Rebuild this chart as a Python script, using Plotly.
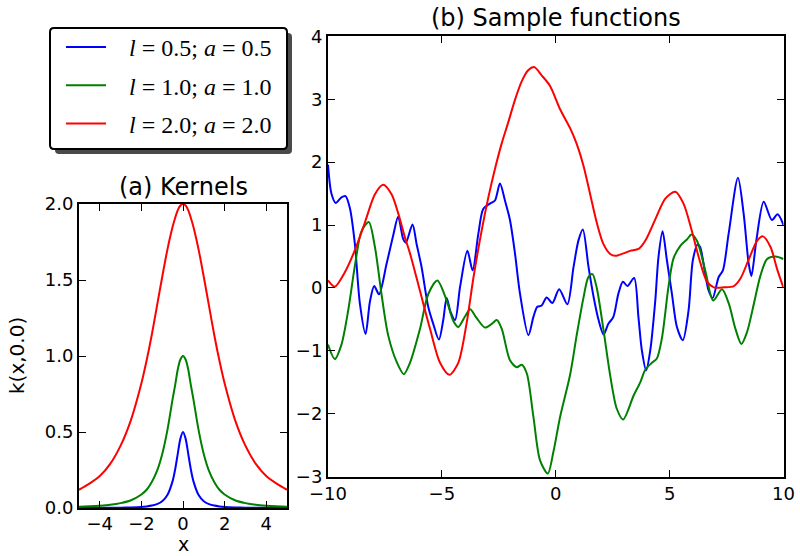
import plotly.graph_objects as go

W, H = 800, 556

# ---------------- data: (a) kernels ----------------
kernel_x = [-5, -4.5, -4, -3.5, -3, -2.5, -2, -1.75, -1.5, -1.25, -1, -0.75, -0.5, -0.375, -0.25, -0.125, 0,
            0.125, 0.25, 0.375, 0.5, 0.75, 1, 1.25, 1.5, 1.75, 2, 2.5, 3, 3.5, 4, 4.5, 5]
kernel_blue = [0.0005, 0.0007, 0.001, 0.0015, 0.0022, 0.0039, 0.0072, 0.0106, 0.0158, 0.0256, 0.0447, 0.0855,
               0.177, 0.256, 0.358, 0.4565, 0.5,
               0.4565, 0.358, 0.256, 0.177, 0.0855, 0.0447, 0.0256, 0.0158, 0.0106, 0.0072, 0.0039, 0.0022,
               0.0015, 0.001, 0.0007, 0.0005]
kernel_green = [0.008, 0.011, 0.015, 0.021, 0.032, 0.051, 0.089, 0.12, 0.171, 0.244, 0.354, 0.512, 0.716,
                0.81, 0.913, 0.977, 1.0,
                0.977, 0.913, 0.81, 0.716, 0.512, 0.354, 0.244, 0.171, 0.12, 0.089, 0.051, 0.032, 0.021,
                0.015, 0.011, 0.008]
kernel_red = [0.12, 0.16, 0.21, 0.29, 0.41, 0.58, 0.82, 0.97, 1.14, 1.33, 1.52, 1.70, 1.85, 1.91, 1.96, 1.99, 2.0,
              1.99, 1.96, 1.91, 1.85, 1.70, 1.52, 1.33, 1.14, 0.97, 0.82, 0.58, 0.41, 0.29, 0.21, 0.16, 0.12]

# ---------------- data: (b) sample functions ----------------
blue_x = [-10, -9.85, -9.66, -9.41, -9.23, -9.04, -8.82, -8.6, -8.35, -8.16, -7.97, -7.76, -7.43, -7.14, -6.92,
          -6.7, -6.58, -6.29, -6.11, -5.89, -5.6, -5.38, -5.13, -4.94, -4.79, -4.62, -4.42, -4.2, -3.88, -3.65,
          -3.4, -3.18, -2.89, -2.67, -2.45, -2.23, -2.01, -1.79, -1.57, -1.2, -0.98, -0.81, -0.62, -0.4, -0.15,
          0.15, 0.51, 0.78, 1.0, 1.19, 1.44, 1.66, 1.88, 2.1, 2.31, 2.53, 2.75, 2.95, 3.15, 3.44, 3.63, 3.78,
          3.97, 4.15, 4.37, 4.51, 4.69, 4.88, 5.1, 5.32, 5.58, 5.83, 6.02, 6.23, 6.34, 6.56, 6.71, 6.89, 7.15,
          7.34, 7.59, 8.0, 8.25, 8.47, 8.59, 8.81, 9.13, 9.49, 9.74, 10]
blue_y = [1.96, 1.5, 1.35, 1.44, 1.46, 1.27, 0.7, -0.25, -0.73, -0.22, 0.03, -0.1, 0.38, 0.83, 1.13,
          0.78, 0.72, 1.01, 0.7, 0.33, -0.3, -0.57, -0.82, -0.51, -0.16, -0.38, -0.51, 0.02, 0.59, 0.28,
          0.86, 1.26, 1.34, 1.39, 1.66, 1.39, 1.08, 0.55, -0.09, -0.75, -0.46, -0.3, -0.28, -0.15, -0.24,
          -0.02, -0.26, 0.33, 0.76, 0.93, 0.33, -0.14, -0.51, -0.74, -0.57, -0.46, -0.09, 0.1, 0.03, 0.16,
          -0.46, -0.99, -1.31, -0.99, -0.2, 0.49, 0.9, 0.44, -0.09, -0.62, -0.83, -0.36, 0.44, 0.69, 0.65,
          0.23, -0.04, -0.16, 0.17, 0.28, 0.86, 1.75, 1.18, 0.39, 0.19, 0.76, 1.37, 1.08, 1.17, 1.0]

green_x = [-10, -9.7, -9.41, -9.11, -8.82, -8.53, -8.21, -7.94, -7.65, -7.36, -6.99, -6.67, -6.4, -5.96, -5.6,
           -5.2, -4.79, -4.5, -4.28, -3.98, -3.76, -3.47, -3.11, -2.81, -2.59, -2.37, -2.01, -1.71, -1.49,
           -1.27, -0.98, -0.69, -0.35, -0.1, 0.19, 0.63, 0.92, 1.22, 1.43, 1.61, 1.8, 2.09, 2.39, 2.68, 2.96,
           3.42, 3.71, 3.93, 4.22, 4.44, 4.66, 4.95, 5.17, 5.47, 5.76, 5.96, 6.2, 6.57, 6.91, 7.3, 7.6, 7.89,
           8.15, 8.4, 8.7, 8.99, 9.28, 9.65, 10]
green_y = [-0.9, -1.13, -0.9, -0.35, 0.35, 0.9, 1.05, 0.65, -0.1, -0.75, -1.17, -1.37, -1.19, -0.65, -0.1,
           0.12, -0.2, -0.52, -0.62, -0.45, -0.34, -0.48, -0.63, -0.57, -0.51, -0.65, -1.15, -1.26, -1.22,
           -1.36, -2.05, -2.74, -2.95, -2.6, -2.05, -1.38, -0.75, -0.15, 0.17, 0.22, 0.0, -0.65, -1.39, -1.92,
           -2.09, -1.71, -1.5, -1.3, -1.19, -1.12, -0.8, 0.02, 0.47, 0.67, 0.77, 0.85, 0.75, 0.27, -0.2, -0.02,
           -0.25, -0.65, -0.89, -0.7, -0.25, 0.2, 0.46, 0.5, 0.46]

red_x = [-10, -9.7, -9.26, -8.82, -8.38, -7.94, -7.58, -7.21, -6.92, -6.62, -6.4, -5.96, -5.52, -5.08, -4.67,
         -4.28, -3.91, -3.62, -3.26, -2.96, -2.67, -2.38, -2.08, -1.79, -1.5, -1.21, -0.94, -0.62, -0.25, 0.19,
         0.63, 0.92, 1.22, 1.51, 1.8, 2.09, 2.39, 2.61, 2.97, 3.27, 3.64, 3.93, 4.37, 4.81, 5.25, 5.61, 5.98,
         6.27, 6.64, 6.94, 7.38, 7.82, 8.11, 8.47, 8.84, 9.1, 9.43, 9.72, 10]
red_y = [0.12, 0.02, 0.25, 0.6, 1.04, 1.49, 1.64, 1.49, 1.19, 0.8, 0.55, -0.05, -0.65, -1.19, -1.38,
         -1.19, -0.55, 0.15, 0.9, 1.44, 1.89, 2.29, 2.64, 2.99, 3.28, 3.46, 3.51, 3.38, 3.21, 2.84,
         2.54, 2.29, 1.94, 1.49, 1.04, 0.70, 0.54, 0.51, 0.55, 0.59, 0.62, 0.75, 1.09, 1.42, 1.53, 1.34, 0.9,
         0.5, 0.1, 0.01, 0.01, 0.03, 0.15, 0.45, 0.75, 0.82, 0.65, 0.3, 0.0]

labels = ["<i>l</i> = 0.5; <i>a</i> = 0.5", "<i>l</i> = 1.0; <i>a</i> = 1.0", "<i>l</i> = 2.0; <i>a</i> = 2.0"]
colors = ["#0000ff", "#008000", "#ff0000"]

TICK_FONT = dict(family="DejaVu Sans", size=18, color="black")
TITLE_FONT = dict(family="DejaVu Sans", size=24, color="black")


def px(x):
    # figure pixel -> paper fraction
    return x / W


def py(y):
    return 1 - y / H


fig = go.Figure()

kernels = [kernel_blue, kernel_green, kernel_red]
for i in range(3):
    fig.add_trace(go.Scatter(
        x=kernel_x, y=kernels[i], mode="lines", name="\u00a0\u00a0\u00a0" + labels[i],
        line=dict(color=colors[i], width=2, shape="spline", smoothing=0.8),
        xaxis="x", yaxis="y", legendgroup=str(i), showlegend=True))

samples = [(blue_x, blue_y), (green_x, green_y), (red_x, red_y)]
for i in range(3):
    sx, sy = samples[i]
    fig.add_trace(go.Scatter(
        x=sx, y=sy, mode="lines", name=labels[i],
        line=dict(color=colors[i], width=2, shape="spline", smoothing=0.8),
        xaxis="x2", yaxis="y2", legendgroup=str(i), showlegend=False))

axis_common = dict(showline=True, linecolor="black", linewidth=2, mirror="ticks", ticks="inside",
                   ticklen=7, tickwidth=1, tickcolor="black", showgrid=False, zeroline=False,
                   tickfont=TICK_FONT, fixedrange=True, automargin=False)

fig.update_layout(
    template="none",
    width=W, height=H,
    margin=dict(l=0, r=0, t=0, b=0, pad=0, autoexpand=False),
    paper_bgcolor="white", plot_bgcolor="white",
    xaxis=dict(domain=[px(79), px(287)], range=[-5, 5], tickvals=[-4, -2, 0, 2, 4], anchor="y",
               ticklabelstandoff=-2, **axis_common),
    yaxis=dict(domain=[py(508), py(204)], range=[0, 2], tickvals=[0, 0.5, 1.0, 1.5, 2.0],
               tickformat=".1f", anchor="x", **axis_common),
    xaxis2=dict(domain=[px(328), px(783.5)], range=[-10, 10], tickvals=[-10, -5, 0, 5, 10], anchor="y2",
                **axis_common),
    yaxis2=dict(domain=[py(476.7), py(36.3)], range=[-3, 4], tickvals=[-3, -2, -1, 0, 1, 2, 3, 4],
                anchor="x2", **axis_common),
    showlegend=True,
    legend=dict(x=px(61), y=py(25), xanchor="left", yanchor="top", bgcolor="rgba(0,0,0,0)",
                borderwidth=0, font=dict(family="Liberation Serif", size=24, color="black"),
                tracegroupgap=4, itemwidth=40),
)


def rounded_rect(x0, y0, x1, y1, r):
    # figure pixel coordinates -> paper path
    pts = [
        f"M {px(x0 + r)},{py(y0)}",
        f"L {px(x1 - r)},{py(y0)}",
        f"Q {px(x1)},{py(y0)} {px(x1)},{py(y0 + r)}",
        f"L {px(x1)},{py(y1 - r)}",
        f"Q {px(x1)},{py(y1)} {px(x1 - r)},{py(y1)}",
        f"L {px(x0 + r)},{py(y1)}",
        f"Q {px(x0)},{py(y1)} {px(x0)},{py(y1 - r)}",
        f"L {px(x0)},{py(y0 + r)}",
        f"Q {px(x0)},{py(y0)} {px(x0 + r)},{py(y0)}",
        "Z",
    ]
    return " ".join(pts)


fig.add_shape(type="path", xref="paper", yref="paper", path=rounded_rect(55, 33, 292, 154, 4),
              fillcolor="#4a4a4a", line=dict(width=0), layer="above")
fig.add_shape(type="path", xref="paper", yref="paper", path=rounded_rect(50, 28, 287, 149, 4),
              fillcolor="white", line=dict(color="black", width=2), layer="above")

fig.add_annotation(text="(a) Kernels", x=px(183), y=py(187), xref="paper", yref="paper",
                   showarrow=False, font=TITLE_FONT, xanchor="center", yanchor="middle")
fig.add_annotation(text="(b) Sample functions", x=px(556), y=py(18), xref="paper", yref="paper",
                   showarrow=False, font=TITLE_FONT, xanchor="center", yanchor="middle")
fig.add_annotation(text="x", x=px(183), y=0, xref="paper", yref="paper",
                   showarrow=False, font=dict(family="DejaVu Sans", size=19, color="black"),
                   xanchor="center", yanchor="bottom", borderpad=0)
fig.add_annotation(text="k(x,0.0)", x=px(17), y=py(356), xref="paper", yref="paper", textangle=-90,
                   showarrow=False, font=dict(family="DejaVu Sans", size=20, color="black"),
                   xanchor="center", yanchor="middle")

# remove the page's default 8px body margin so the 800x556 figure fills the window exactly
fig.write_html("out.html", config={"displayModeBar": False},
               post_script="document.body.style.margin='0';document.body.style.overflow='hidden';")
